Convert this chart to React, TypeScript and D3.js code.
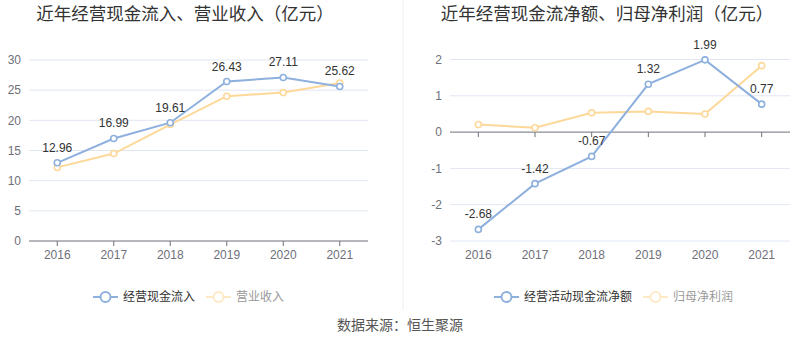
import React from "react";
import * as d3 from "d3";

const years = ["2016", "2017", "2018", "2019", "2020", "2021"];
const cashIn = [12.96, 16.99, 19.61, 26.43, 27.11, 25.62];
const revenue = [12.2, 14.5, 19.3, 24.0, 24.6, 26.2];
const netCash = [-2.68, -1.42, -0.67, 1.32, 1.99, 0.77];
const netProfit = [0.21, 0.12, 0.53, 0.57, 0.5, 1.83];
const leftTicks = [0, 5, 10, 15, 20, 25, 30];
const rightTicks = [-3, -2, -1, 0, 1, 2];

const BLUE = "#8eb0de";
const ORANGE = "#fdd899";
const FONT = "'Liberation Sans', 'Noto Sans CJK SC', sans-serif";
const AXIS = "#6e7079";
const GRID = "#e0e6f1";

function Panel({
  x0, x1, yTop, yBot, domain, ticks, s1, s2, title, titleX, l1, l2, legendX,
}: any) {
  const x = d3.scaleBand().domain(years).range([x0, x1]);
  const y = d3.scaleLinear().domain(domain).range([yBot, yTop]);
  const cx = (d: string) => (x(d) as number) + x.bandwidth() / 2;
  const line = d3.line<number>().x((_, i) => cx(years[i])).y((v) => y(v));
  const zeroY = y(Math.max(domain[0], Math.min(domain[1], 0)));
  return (
    <g>
      <text x={titleX} y={20} textAnchor="middle" fontSize={17.5} fill="#333" fontFamily={FONT}>{title}</text>
      {ticks.map((t: number) => (
        <g key={t}>
          {t !== 0 && <line x1={x0} x2={x1} y1={y(t)} y2={y(t)} stroke={GRID} strokeWidth={1} />}
          <text x={x0 - 8} y={y(t)} dy="0.35em" textAnchor="end" fontSize={12} fill={AXIS} fontFamily={FONT}>{t}</text>
        </g>
      ))}
      <line x1={x0} x2={x1} y1={zeroY} y2={zeroY} stroke={AXIS} strokeWidth={1} />
      {years.map((yr) => (
        <g key={yr}>
          <line x1={cx(yr)} x2={cx(yr)} y1={zeroY} y2={zeroY + 5} stroke={AXIS} />
          <text x={cx(yr)} y={yBot + 18} textAnchor="middle" fontSize={12} fill={AXIS} fontFamily={FONT}>{yr}</text>
        </g>
      ))}
      <path d={line(s2) as string} fill="none" stroke={ORANGE} strokeWidth={2} />
      <path d={line(s1) as string} fill="none" stroke={BLUE} strokeWidth={2} />
      {s2.map((v: number, i: number) => (
        <circle key={"b" + i} cx={cx(years[i])} cy={y(v)} r={3} fill="#fff" stroke={ORANGE} strokeWidth={1.6} />
      ))}
      {s1.map((v: number, i: number) => (
        <g key={"a" + i}>
          <circle cx={cx(years[i])} cy={y(v)} r={3} fill="#fff" stroke={BLUE} strokeWidth={1.6} />
          <text x={cx(years[i])} y={y(v) - 11} textAnchor="middle" fontSize={12} fill="#333" fontFamily={FONT}>{v.toFixed(2)}</text>
        </g>
      ))}
      <g transform={`translate(${legendX},297)`}>
        <line x1={0} x2={25} y1={0} y2={0} stroke={BLUE} strokeWidth={2} />
        <circle cx={12.5} cy={0} r={5} fill="#fff" stroke={BLUE} strokeWidth={2} />
        <text x={30} y={0} dy="0.35em" fontSize={12} fill="#333" fontFamily={FONT}>{l1}</text>
        <g transform={`translate(${l1.length * 12 + 41},0)`}>
          <line x1={0} x2={25} y1={0} y2={0} stroke="#fee9c6" strokeWidth={2} />
          <circle cx={12.5} cy={0} r={5} fill="#fff" stroke="#fee9c6" strokeWidth={2} />
          <text x={30} y={0} dy="0.35em" fontSize={12} fill="#999" fontFamily={FONT}>{l2}</text>
        </g>
      </g>
    </g>
  );
}

export default function App() {
  return (
    <svg width={800} height={358} style={{ position: "absolute", left: 0, top: 0, background: "#fff" }}>
      <rect width={800} height={358} fill="#fff" />
      <line x1={403} x2={403} y1={0} y2={310} stroke="#eeeeee" strokeWidth={1} />
      <Panel
        x0={29} x1={368} yTop={60} yBot={241} domain={[0, 30]} ticks={leftTicks}
        s1={cashIn} s2={revenue} title="近年经营现金流入、营业收入（亿元）" titleX={185}
        l1="经营现金流入" l2="营业收入" legendX={93}
      />
      <Panel
        x0={450} x1={790} yTop={59.5} yBot={241} domain={[-3, 2]} ticks={rightTicks}
        s1={netCash} s2={netProfit} title="近年经营现金流净额、归母净利润（亿元）" titleX={607}
        l1="经营活动现金流净额" l2="归母净利润" legendX={494}
      />
      <text x={400} y={325} dy="0.35em" textAnchor="middle" fontSize={14} fill="#555" fontFamily={FONT}>数据来源：恒生聚源</text>
    </svg>
  );
}
